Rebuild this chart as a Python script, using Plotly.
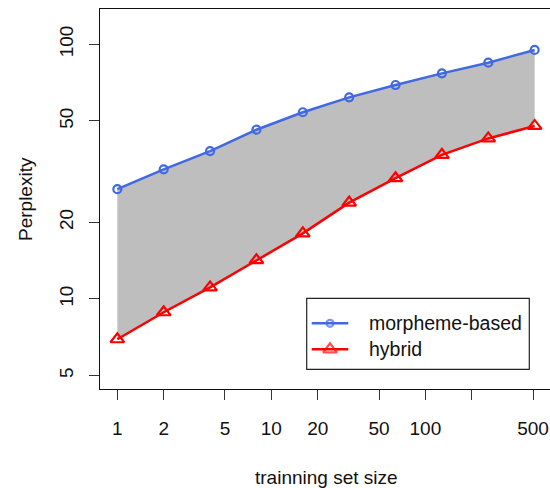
import plotly.graph_objects as go

# ---- data ----
train_size = [1, 2, 4, 8, 16, 32, 64, 128, 256, 512]
morpheme_based = [27.0, 32.3, 38.1, 46.2, 54.1, 61.9, 69.2, 76.9, 84.7, 95.0]
hybrid = [6.95, 8.87, 11.1, 14.2, 18.1, 23.9, 29.8, 36.8, 42.7, 47.8]
x_tick_vals = [1, 2, 5, 10, 20, 50, 100, 200, 500]
x_tick_text = ["1", "2", "5", "10", "20", "50", "100", "", "500"]
y_tick_vals = [5, 10, 20, 50, 100]
y_tick_text = ["5", "10", "20", "50", "100"]
series_names = ["morpheme-based", "hybrid"]

BLUE = "#4169E1"
RED = "#FF0000"
GRAY = "#BEBEBE"
FONT = "Liberation Sans, Arial, sans-serif"
FS = 19

fig = go.Figure()

# gray band between the curves
fig.add_trace(go.Scatter(x=train_size, y=hybrid, mode="lines", line=dict(width=0),
                         showlegend=False, hoverinfo="skip"))
fig.add_trace(go.Scatter(x=train_size, y=morpheme_based, mode="lines", line=dict(width=0),
                         fill="tonexty", fillcolor=GRAY, showlegend=False, hoverinfo="skip"))

# lines with markers
fig.add_trace(go.Scatter(x=train_size, y=morpheme_based, mode="lines+markers", name=series_names[0],
                         line=dict(color=BLUE, width=2.5),
                         marker=dict(symbol="circle-open", size=8, color=BLUE, line=dict(width=2.2, color=BLUE)),
                         showlegend=False))
fig.add_trace(go.Scatter(x=train_size, y=hybrid, mode="lines+markers", name=series_names[1],
                         line=dict(color=RED, width=2.5),
                         marker=dict(symbol="triangle-up-open", size=12, color=RED, line=dict(width=2.2, color=RED)),
                         showlegend=False))

# ---- custom R-style legend on an overlay pixel-like axis ----
leg_x0, leg_x1, leg_y0, leg_y1 = 306.7, 529.3, 298.3, 369.3
rows_y = [323.3, 349.3]
for name, col, sym, sz, yy in [(series_names[0], BLUE, "circle-open", 7, rows_y[0]),
                               (series_names[1], RED, "triangle-up-open", 12, rows_y[1])]:
    fig.add_trace(go.Scatter(x=[311.7, 330, 348.3], y=[yy, yy, yy], xaxis="x2", yaxis="y2",
                             mode="lines+markers", line=dict(color=col, width=2.5),
                             marker=dict(symbol=sym, size=[0, sz, 0], color=col,
                                         line=dict(width=2.2, color=col)),
                             showlegend=False, hoverinfo="skip"))
    fig.add_annotation(x=366.5, y=yy, xref="x2", yref="y2", text=name, showarrow=False,
                       xanchor="left", yanchor="middle", font=dict(family=FONT, size=FS + 0.5, color="#111"))
fig.add_shape(type="rect", xref="x2", yref="y2", x0=leg_x0, x1=leg_x1, y0=leg_y0, y1=leg_y1,
              line=dict(color="#222", width=1.2), fillcolor="rgba(0,0,0,0)", layer="above")

fig.update_layout(
    width=550, height=488,
    margin=dict(l=100, r=0, t=9, b=99),
    paper_bgcolor="white", plot_bgcolor="white",
    font=dict(family=FONT, size=FS, color="#111"),
    xaxis=dict(type="log", range=[-0.1125, 2.809], tickvals=x_tick_vals, ticktext=x_tick_text,
               showgrid=False, zeroline=False, showline=True, linecolor="#111", linewidth=1.2,
               mirror=True, ticks="outside", ticklen=10, tickwidth=1.2, tickcolor="#333",
               ticklabelstandoff=12, tickfont=dict(family=FONT, size=FS, color="#111")),
    yaxis=dict(type="log", range=[0.6466, 2.1386], tickvals=y_tick_vals, ticktext=y_tick_text,
               showgrid=False, zeroline=False, showline=True, linecolor="#111", linewidth=1.2,
               mirror=False, ticks="outside", ticklen=10, tickwidth=1.2, tickcolor="#333",
               tickangle=-90, ticklabelstandoff=8, tickfont=dict(family=FONT, size=FS, color="#111")),
    xaxis2=dict(overlaying="x", range=[100, 550], visible=False, fixedrange=True),
    yaxis2=dict(overlaying="y", range=[389, 9], visible=False, fixedrange=True),
    showlegend=False,
)

# axis titles
fig.add_annotation(text="trainning set size", xref="paper", yref="paper", x=0.5, y=0,
                   yshift=-88, xshift=-(550 - 100) / 2 + (326 - 100), showarrow=False,
                   xanchor="center", yanchor="middle", font=dict(family=FONT, size=FS, color="#111"))
fig.add_annotation(text="Perplexity", xref="paper", yref="paper", x=0, y=0.5,
                   xshift=-75, showarrow=False, textangle=-90,
                   xanchor="center", yanchor="middle", font=dict(family=FONT, size=FS, color="#111"))

fig.write_html("out.html")
